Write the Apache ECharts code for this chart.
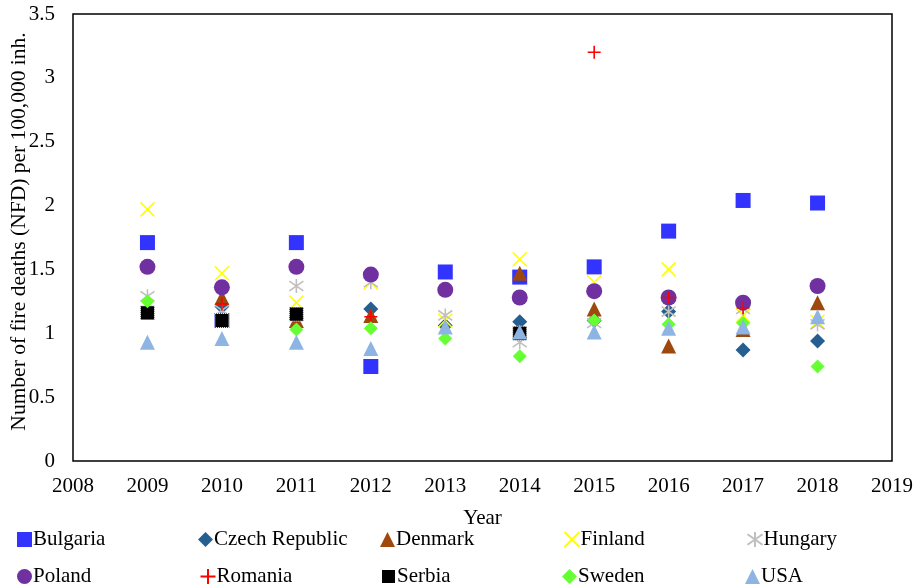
<!DOCTYPE html>
<html>
<head>
<meta charset="utf-8">
<script src="https://cdn.jsdelivr.net/npm/echarts@6/dist/echarts.min.js"></script>
<style>
  html, body { margin: 0; padding: 0; background: #fff; }
  #chart { width: 920px; height: 588px; }
</style>
</head>
<body>
<div id="chart"></div>
<script>
// fire deaths per 100,000 inhabitants
var years = [2009, 2010, 2011, 2012, 2013, 2014, 2015, 2016, 2017, 2018];
var bulgaria = [1.71, 1.10, 1.71, 0.74, 1.48, 1.44, 1.52, 1.80, 2.04, 2.02];
var czech    = [null, 1.21, 1.12, 1.19, 1.06, 1.09, 1.10, 1.17, 0.87, 0.94];
var denmark  = [null, 1.28, 1.10, 1.14, null, 1.47, 1.19, 0.90, 1.03, 1.24];
var finland  = [1.97, 1.47, 1.24, 1.40, 1.10, 1.58, 1.40, 1.50, 1.14, 1.09];
var hungary  = [1.29, 1.18, 1.37, 1.40, 1.14, 0.93, 1.08, 1.17, 1.19, 1.07];
var poland   = [1.52, 1.36, 1.52, 1.46, 1.34, 1.28, 1.33, 1.28, 1.24, 1.37];
var romania  = [null, 1.23, 1.12, 1.13, null, 1.00, 3.20, 1.28, 1.20, null];
var serbia   = [1.16, 1.10, 1.15, null, null, 1.00, null, null, null, null];
var sweden   = [1.25, null, 1.03, 1.04, 0.96, 0.82, 1.10, 1.07, 1.08, 0.74];
var usa      = [0.93, 0.96, 0.93, 0.88, 1.05, 1.01, 1.01, 1.04, 1.05, 1.13];

var font = 'Liberation Serif';
var fs = 21;

// line-only glyphs
var crossPath = 'path://M0,0L10,10M10,0L0,10';
var plusPath = 'path://M5,0L5,10M0,5L10,5';
var starPath = 'path://M5,0L5,10M0,1.5L10,8.5M10,1.5L0,8.5';

var seriesDefs = [
    {name: 'Bulgaria', data: bulgaria, symbol: 'rect', size: 15, style: {color: '#3333FF'}},
    {name: 'Czech Republic', data: czech, symbol: 'diamond', size: 15, style: {color: '#255E91'}},
    {name: 'Denmark', data: denmark, symbol: 'triangle', size: 15, style: {color: '#9E480E'}},
    {name: 'Finland', data: finland, symbol: crossPath, size: 14, style: {color: 'none', borderColor: '#FFFF00', borderWidth: 1.6}},
    {name: 'Hungary', data: hungary, symbol: starPath, size: 14, style: {color: 'none', borderColor: '#BFBFBF', borderWidth: 1.6}},
    {name: 'Poland', data: poland, symbol: 'circle', size: 16, style: {color: '#7030A0'}},
    {name: 'Romania', data: romania, symbol: plusPath, size: 13, style: {color: 'none', borderColor: '#FF0000', borderWidth: 1.6}},
    {name: 'Serbia', data: serbia, symbol: 'rect', size: 14, style: {color: '#000000', borderColor: '#fff', borderWidth: 1, borderType: 'dotted'}},
    {name: 'Sweden', data: sweden, symbol: 'diamond', size: 14, style: {color: '#66FF33'}},
    {name: 'USA', data: usa, symbol: 'triangle', size: 15, style: {color: '#8DB4E2'}}
];

var series = seriesDefs.map(function (d) {
    d.style.opacity = 1;
    return {
        name: d.name,
        type: 'scatter',
        symbol: d.symbol,
        symbolSize: d.size,
        itemStyle: d.style,
        data: years.map(function (y, i) {
            return d.data[i] === null ? null : [y, d.data[i]];
        })
    };
});

// legend: 5 per row, fixed columns
var legendLeft = [17, 198, 380, 562, 745];
var legendTop = [529, 566];
var legends = seriesDefs.map(function (d, i) {
    return {
        data: [d.name],
        left: legendLeft[i % 5],
        top: legendTop[Math.floor(i / 5)],
        itemWidth: 15,
        itemHeight: 15,
        itemGap: 2,
        padding: 0,
        textStyle: {fontFamily: font, fontSize: fs, color: '#000', padding: [0, 0, 0, -4]},
        selectedMode: false
    };
});

var chart = echarts.init(document.getElementById('chart'), null, {renderer: 'canvas'});
chart.setOption({
    animation: false,
    backgroundColor: '#fff',
    grid: {left: 73, right: 28, top: 14, bottom: 127, outerBoundsMode: 'none', containLabel: false,
        show: true, borderColor: '#000', borderWidth: 1.5},
    legend: legends,
    xAxis: {
        type: 'value',
        min: 2008,
        max: 2019,
        interval: 1,
        name: 'Year',
        nameLocation: 'middle',
        nameGap: 47,
        nameMoveOverlap: false,
        nameTextStyle: {fontFamily: font, fontSize: fs, color: '#000'},
        axisLine: {show: false},
        axisTick: {show: false},
        splitLine: {show: false},
        axisLabel: {fontFamily: font, fontSize: fs, color: '#000', margin: 15,
            formatter: function (v) { return String(v); }}
    },
    yAxis: {
        type: 'value',
        min: 0,
        max: 3.5,
        interval: 0.5,
        name: 'Number of fire deaths (NFD) per 100,000 inh.',
        nameLocation: 'middle',
        nameGap: 43,
        nameMoveOverlap: false,
        nameTextStyle: {fontFamily: font, fontSize: 21.5, color: '#000', padding: [0, 0, 0, 12]},
        axisLine: {show: false},
        axisTick: {show: false},
        splitLine: {show: false},
        axisLabel: {fontFamily: font, fontSize: fs, color: '#000', margin: 18}
    },
    series: series
});
</script>
</body>
</html>
